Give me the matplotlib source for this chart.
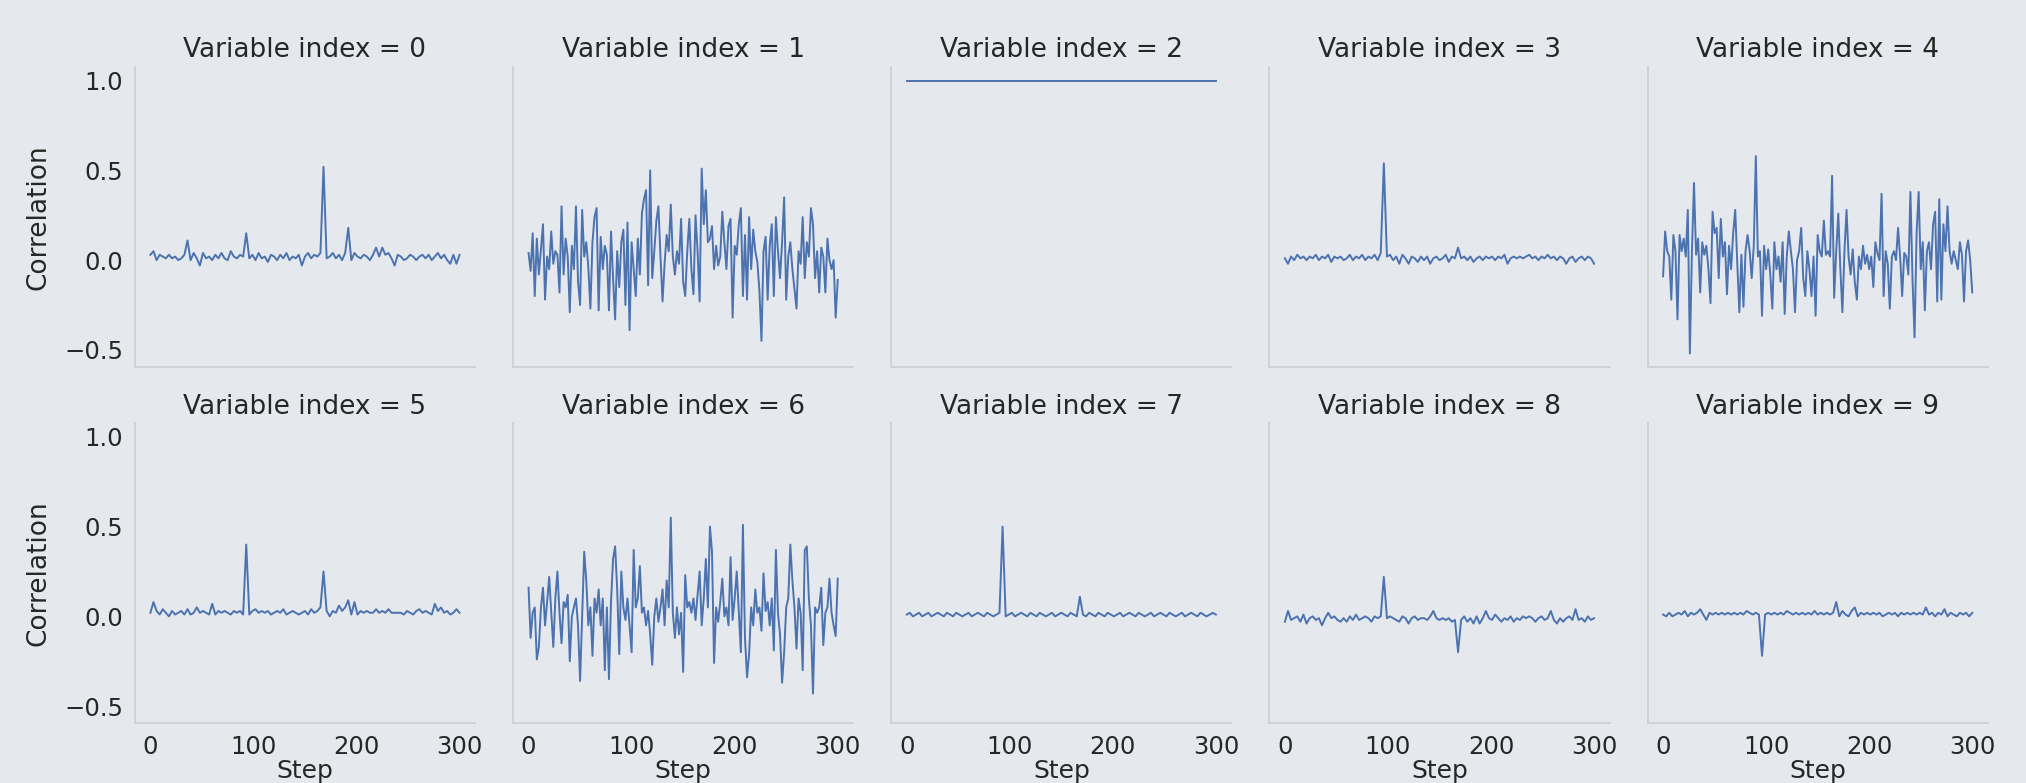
# facet grid of per-variable correlation over training steps
import numpy as np
import matplotlib.pyplot as plt

# ---------------------------------------------------------------
# data (noisy panels every 2 steps,
# flat panels every 3 steps)
# ---------------------------------------------------------------
steps_fine = list(range(0, 301, 2))
steps_coarse = list(range(0, 301, 3))
steps_const = [0, 300]

corr_0 = [0.03, 0.05, 0.00, 0.03, 0.02, 0.01, 0.03, 0.01, 0.02, 0.00,
          0.01, 0.03, 0.11, 0.00, 0.04, 0.01, -0.03, 0.04, 0.01, 0.02,
          0.00, 0.03, 0.01, 0.04, 0.01, 0.00, 0.05, 0.02, 0.01, 0.03,
          0.02, 0.15, 0.01, 0.03, 0.00, 0.04, 0.01, 0.02, -0.01, 0.03,
          0.02, 0.00, 0.03, 0.01, 0.04, 0.00, 0.02, 0.01, 0.03, -0.03,
          0.02, 0.04, 0.01, 0.03, 0.02, 0.04, 0.52, 0.01, 0.02, 0.04,
          0.01, 0.03, 0.00, 0.04, 0.18, 0.00, 0.04, 0.02, 0.01, 0.03,
          0.02, 0.00, 0.03, 0.07, 0.02, 0.07, 0.03, 0.04, 0.01, -0.03,
          0.03, 0.02, 0.00, 0.01, 0.03, 0.02, 0.00, 0.02, 0.03, 0.01,
          0.03, 0.00, 0.02, 0.04, 0.01, 0.03, 0.00, -0.02, 0.03, -0.02,
          0.03]

corr_1 = [0.04, -0.06, 0.15, -0.20, 0.12, -0.08, 0.06, 0.20, -0.22, 0.02,
          -0.05, 0.16, -0.02, 0.05, 0.03, -0.18, 0.30, -0.08, 0.12, 0.02,
          -0.29, 0.08, -0.05, 0.30, -0.12, -0.25, 0.28, 0.02, 0.10, -0.04,
          -0.27, 0.10, 0.24, 0.29, -0.28, 0.13, -0.05, 0.08, 0.03, -0.28,
          0.16, -0.10, -0.33, 0.05, -0.15, 0.10, 0.17, -0.25, 0.21, -0.39,
          0.10, -0.05, -0.20, 0.12, -0.08, 0.26, 0.34, 0.39, -0.14, 0.50,
          -0.10, 0.05, 0.22, 0.30, 0.02, -0.23, -0.02, 0.14, 0.05, 0.31,
          0.02, -0.08, 0.05, -0.02, 0.23, -0.12, -0.20, 0.05, 0.23, -0.05,
          -0.19, 0.25, 0.05, -0.23, 0.51, 0.20, 0.39, 0.10, 0.12, 0.19,
          -0.05, 0.08, -0.03, 0.02, 0.27, 0.10, -0.05, 0.19, 0.23, -0.32,
          0.08, 0.03, 0.20, 0.29, -0.20, 0.14, -0.22, 0.24, -0.05, 0.17,
          0.05, -0.01, -0.17, -0.45, 0.05, 0.13, -0.22, 0.08, 0.20, -0.20,
          0.24, 0.05, -0.10, 0.10, 0.35, -0.22, 0.02, 0.10, -0.05, -0.16,
          -0.27, 0.05, -0.02, 0.24, -0.10, 0.10, 0.02, 0.29, 0.20, -0.10,
          0.05, -0.18, 0.07, 0.02, -0.18, 0.12, 0.00, -0.05, 0.00, -0.32,
          -0.11]

corr_2 = [1.0, 1.0]

corr_3 = [0.01, -0.02, 0.02, 0.00, 0.03, 0.01, 0.02, 0.00, 0.02, 0.01,
          0.03, 0.00, 0.02, 0.01, 0.03, -0.01, 0.02, 0.01, 0.02, 0.00,
          0.01, 0.03, 0.00, 0.02, 0.01, 0.03, 0.00, 0.02, 0.01, 0.03,
          0.00, 0.04, 0.54, 0.02, 0.03, 0.00, 0.02, -0.02, 0.03, 0.01,
          -0.02, 0.02, 0.01, -0.01, 0.02, 0.00, 0.02, -0.02, 0.01, 0.02,
          0.00, 0.01, 0.03, -0.01, 0.02, 0.01, 0.07, 0.01, 0.02, 0.00,
          0.02, -0.01, 0.01, 0.02, 0.00, 0.02, 0.01, 0.02, 0.00, 0.02,
          0.01, 0.03, -0.02, 0.01, 0.02, 0.01, 0.02, 0.01, 0.02, 0.03,
          0.01, 0.02, 0.00, 0.02, 0.01, 0.03, 0.01, 0.02, 0.00, 0.02,
          0.01, -0.02, 0.01, 0.02, -0.01, 0.01, 0.02, 0.00, 0.02, 0.01,
          -0.02]

corr_4 = [-0.09, 0.16, 0.05, 0.02, -0.22, 0.14, 0.05, -0.33, 0.14, 0.05,
          0.12, 0.02, 0.28, -0.52, 0.05, 0.43, 0.03, 0.12, -0.18, 0.10,
          0.03, 0.08, -0.05, -0.24, 0.27, 0.15, 0.18, -0.10, 0.23, 0.02,
          0.10, -0.19, 0.08, -0.05, 0.15, 0.28, -0.02, -0.29, 0.03, -0.26,
          0.05, 0.14, 0.05, -0.10, 0.08, 0.58, 0.02, 0.05, -0.31, 0.08,
          -0.05, 0.06, -0.08, -0.27, 0.10, -0.05, 0.02, -0.12, 0.10, -0.30,
          0.02, 0.16, 0.05, -0.05, -0.29, 0.00, 0.05, 0.18, -0.10, -0.20,
          0.05, -0.05, -0.20, 0.02, -0.31, 0.14, 0.05, 0.02, 0.22, 0.03,
          0.05, 0.02, 0.47, -0.21, 0.05, 0.26, -0.05, -0.29, 0.05, 0.28,
          0.02, -0.08, 0.06, -0.12, -0.22, 0.02, -0.05, 0.08, -0.02, 0.03,
          -0.05, 0.02, -0.15, 0.10, 0.04, 0.00, 0.37, -0.20, 0.05, -0.02,
          -0.27, 0.02, 0.05, 0.00, 0.18, 0.02, -0.20, 0.04, 0.02, -0.08,
          0.38, -0.10, -0.43, 0.15, 0.38, -0.05, 0.10, -0.28, 0.05, 0.10,
          -0.05, 0.20, 0.27, -0.23, 0.34, -0.22, 0.20, 0.05, 0.30, 0.05,
          -0.02, 0.05, 0.00, -0.05, 0.10, 0.03, -0.23, 0.05, 0.11, 0.00,
          -0.18]

corr_5 = [0.02, 0.08, 0.03, 0.01, 0.04, 0.02, 0.00, 0.03, 0.01, 0.02,
          0.03, 0.01, 0.04, 0.01, 0.02, 0.05, 0.02, 0.03, 0.02, 0.01,
          0.07, 0.01, 0.03, 0.02, 0.03, 0.02, 0.01, 0.03, 0.02, 0.03,
          0.01, 0.40, 0.01, 0.03, 0.04, 0.02, 0.03, 0.02, 0.03, 0.01,
          0.02, 0.03, 0.02, 0.04, 0.01, 0.02, 0.03, 0.02, 0.01, 0.02,
          0.03, 0.01, 0.04, 0.02, 0.03, 0.05, 0.25, 0.03, 0.00, 0.03,
          0.02, 0.06, 0.03, 0.05, 0.09, 0.01, 0.08, 0.01, 0.03, 0.02,
          0.03, 0.02, 0.02, 0.04, 0.02, 0.03, 0.02, 0.04, 0.02, 0.02,
          0.02, 0.02, 0.01, 0.03, 0.02, 0.01, 0.03, 0.04, 0.02, 0.03,
          0.02, 0.01, 0.07, 0.03, 0.05, 0.02, 0.03, 0.01, 0.02, 0.04,
          0.02]

corr_6 = [0.16, -0.12, 0.02, 0.05, -0.24, -0.17, 0.05, 0.16, -0.05, 0.08,
          0.22, 0.02, -0.17, 0.10, 0.25, 0.02, -0.15, 0.08, 0.05, 0.12,
          -0.25, 0.00, 0.05, 0.10, -0.05, -0.36, 0.00, 0.36, 0.20, -0.05,
          0.05, -0.22, 0.10, 0.02, 0.15, -0.05, 0.10, -0.30, 0.05, -0.35,
          0.08, 0.32, 0.39, 0.15, -0.21, 0.25, 0.05, -0.02, 0.10, -0.05,
          -0.20, 0.37, 0.05, 0.10, 0.28, 0.02, 0.05, -0.05, 0.03, -0.10,
          -0.27, 0.00, 0.10, -0.03, 0.05, 0.15, -0.05, 0.20, 0.05, 0.55,
          0.02, -0.12, 0.05, -0.10, 0.02, -0.31, 0.23, 0.05, 0.08, 0.02,
          0.10, -0.02, 0.12, 0.25, -0.05, 0.10, 0.32, 0.05, 0.50, 0.36,
          -0.26, 0.05, -0.03, 0.08, 0.21, 0.00, 0.05, -0.05, 0.33, -0.02,
          0.10, 0.25, 0.02, -0.20, 0.51, -0.12, -0.34, -0.21, 0.05, -0.05,
          0.15, 0.02, 0.05, -0.08, 0.24, 0.03, 0.08, -0.05, 0.10, -0.19,
          0.37, 0.02, -0.10, -0.37, -0.20, 0.05, 0.10, 0.40, 0.20, 0.05,
          -0.18, 0.10, 0.02, -0.30, 0.37, 0.39, 0.10, -0.05, -0.43, 0.05,
          0.02, 0.05, 0.16, -0.16, 0.02, 0.05, 0.21, 0.02, -0.05, -0.11,
          0.21]

corr_7 = [0.01, 0.02, 0.00, 0.01, 0.02, 0.00, 0.01, 0.02, 0.00, 0.01,
          0.02, 0.01, 0.00, 0.02, 0.01, 0.00, 0.02, 0.01, 0.00, 0.01,
          0.02, 0.00, 0.01, 0.02, 0.01, 0.00, 0.02, 0.01, 0.00, 0.01,
          0.02, 0.50, 0.00, 0.01, 0.02, 0.00, 0.01, 0.02, 0.01, 0.00,
          0.02, 0.01, 0.00, 0.02, 0.01, 0.00, 0.01, 0.02, 0.00, 0.01,
          0.02, 0.01, 0.00, 0.02, 0.01, 0.00, 0.11, 0.01, 0.00, 0.02,
          0.01, 0.00, 0.02, 0.01, 0.00, 0.02, 0.01, 0.00, 0.01, 0.02,
          0.00, 0.01, 0.02, 0.01, 0.00, 0.02, 0.01, 0.00, 0.01, 0.02,
          0.00, 0.01, 0.02, 0.01, 0.00, 0.02, 0.01, 0.00, 0.01, 0.02,
          0.00, 0.01, 0.02, 0.01, 0.00, 0.02, 0.01, 0.00, 0.01, 0.02,
          0.01]

corr_8 = [-0.03, 0.03, -0.02, -0.01, 0.00, -0.03, 0.01, -0.04, -0.01, 0.00,
          -0.02, -0.01, -0.05, -0.01, 0.02, -0.01, 0.00, -0.02, -0.03, -0.01,
          -0.03, 0.00, -0.02, 0.01, -0.02, -0.01, 0.00, -0.01, -0.03, 0.00,
          -0.01, 0.00, 0.22, -0.01, 0.00, -0.01, -0.02, -0.03, 0.00, -0.01,
          -0.04, -0.01, 0.00, -0.02, -0.01, -0.01, -0.02, 0.00, 0.03, -0.01,
          -0.02, -0.01, -0.02, -0.01, -0.03, -0.02, -0.20, -0.02, 0.00, -0.03,
          -0.01, -0.04, 0.00, -0.04, -0.01, 0.03, -0.01, -0.02, 0.01, -0.01,
          -0.03, -0.01, -0.02, 0.00, -0.03, -0.01, -0.02, 0.00, -0.01, 0.00,
          -0.01, -0.03, -0.01, 0.00, -0.02, -0.01, 0.03, -0.02, -0.04, -0.01,
          -0.03, -0.01, 0.00, -0.02, 0.04, -0.02, -0.01, -0.03, 0.00, -0.02,
          -0.01]

corr_9 = [0.01, 0.00, 0.02, 0.00, 0.01, 0.02, 0.01, 0.03, 0.00, 0.02,
          0.01, 0.02, 0.04, 0.01, -0.02, 0.02, 0.01, 0.02, 0.01, 0.02,
          0.01, 0.02, 0.01, 0.02, 0.01, 0.02, 0.01, 0.03, 0.02, 0.01,
          0.02, 0.01, -0.22, 0.01, 0.02, 0.01, 0.02, 0.01, 0.02, 0.01,
          0.03, 0.02, 0.01, 0.02, 0.01, 0.02, 0.01, 0.02, 0.01, 0.03,
          0.01, 0.02, 0.01, 0.02, 0.01, 0.02, 0.08, 0.00, 0.03, 0.01,
          0.00, 0.03, 0.05, 0.00, 0.02, 0.01, 0.02, 0.01, 0.02, 0.01,
          0.02, 0.00, 0.01, 0.02, 0.01, 0.02, 0.00, 0.02, 0.01, 0.02,
          0.01, 0.02, 0.01, 0.02, 0.01, 0.05, 0.01, 0.02, 0.00, 0.02,
          0.01, 0.04, 0.00, 0.02, 0.01, 0.00, 0.02, 0.01, 0.02, 0.00,
          0.02]

SERIES = [
    (steps_coarse, corr_0), (steps_fine, corr_1), (steps_const, corr_2),
    (steps_coarse, corr_3), (steps_fine, corr_4), (steps_coarse, corr_5),
    (steps_fine, corr_6), (steps_coarse, corr_7), (steps_coarse, corr_8),
    (steps_coarse, corr_9),
]
for i, (xs, ys) in enumerate(SERIES):
    assert len(xs) == len(ys), (i, len(xs), len(ys))

# ---------------------------------------------------------------
# style
# ---------------------------------------------------------------
BG = "#e5e9ed"
SPINE = "#cdd1d5"
TEXT = "#262626"
LINE = "#4c72b0"

plt.rcParams["font.family"] = ["DejaVu Sans"]
plt.rcParams["text.color"] = TEXT
plt.rcParams["axes.labelcolor"] = TEXT
plt.rcParams["xtick.color"] = TEXT
plt.rcParams["ytick.color"] = TEXT

fig, axes = plt.subplots(2, 5, figsize=(20.26, 7.83), dpi=100,
                         sharex=True, sharey=True)
fig.patch.set_facecolor(BG)
fig.subplots_adjust(left=0.0666, right=0.9811, top=0.9144, bottom=0.0762,
                    wspace=0.112, hspace=0.187)

for i, ax in enumerate(axes.flat):
    xs, ys = SERIES[i]
    ax.plot(xs, ys, color=LINE, lw=1.4)
    ax.set_facecolor(BG)
    ax.set_title(f"Variable index = {i}", fontsize=19, pad=7)
    for side in ("top", "right"):
        ax.spines[side].set_visible(False)
    for side in ("left", "bottom"):
        ax.spines[side].set_color(SPINE)
        ax.spines[side].set_linewidth(1.3)
    ax.tick_params(length=0, labelsize=17.5, pad=8.5)
    ax.grid(False)

axes[0, 0].set_xticks([0, 100, 200, 300])
axes[0, 0].set_yticks([-0.5, 0.0, 0.5, 1.0])

for ax in axes[:, 0]:
    ax.set_ylabel("Correlation", fontsize=19, labelpad=9)
for ax in axes[1, :]:
    ax.set_xlabel("Step", fontsize=18, labelpad=0)

plt.savefig("out.png", dpi=100, facecolor=BG)
